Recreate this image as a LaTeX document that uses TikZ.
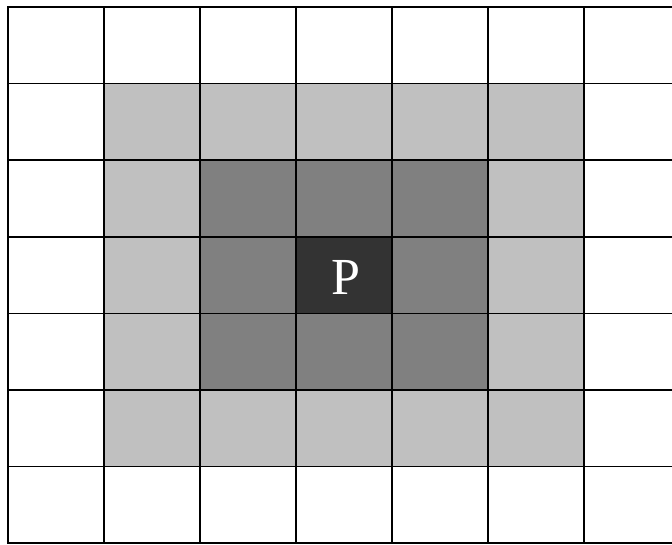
\documentclass[tikz,border=0pt]{standalone}
\usepackage{fontspec}
\setmainfont{Liberation Serif}
\usetikzlibrary{calc}
\definecolor{ringA}{HTML}{333333}
\definecolor{ringB}{HTML}{808080}
\definecolor{ringC}{HTML}{C0C0C0}
\tikzset{
  cell/.style={draw=black, line width=1.7pt, minimum width=96pt, minimum height=76.6pt,
    inner sep=0pt, outer sep=0pt, anchor=north west},
  lbl/.style={text=white, font=\fontsize{52}{52}\selectfont}
}
\begin{document}
\begin{tikzpicture}[x=1pt,y=-1pt]
\useasboundingbox (0,0) rectangle (672,545);
\clip (0,0) rectangle (672,545);
\fill[white] (0,0) rectangle (672,545);
\foreach \i in {0,...,6}{
  \foreach \j in {0,...,6}{
    \pgfmathtruncatemacro{\dx}{abs(\i-3)}
    \pgfmathtruncatemacro{\dy}{abs(\j-3)}
    \pgfmathtruncatemacro{\d}{max(\dx,\dy)}
    \ifcase\d \def\fc{ringA}\or \def\fc{ringB}\or \def\fc{ringC}\else \def\fc{white}\fi
    \node[cell, fill=\fc] (c-\i-\j) at ({8+96*\i},{7+76.6*\j}) {};
  }
}
\node[lbl] at ($(c-3-3.center)+(2,2)$) {P};
\end{tikzpicture}
\end{document}
